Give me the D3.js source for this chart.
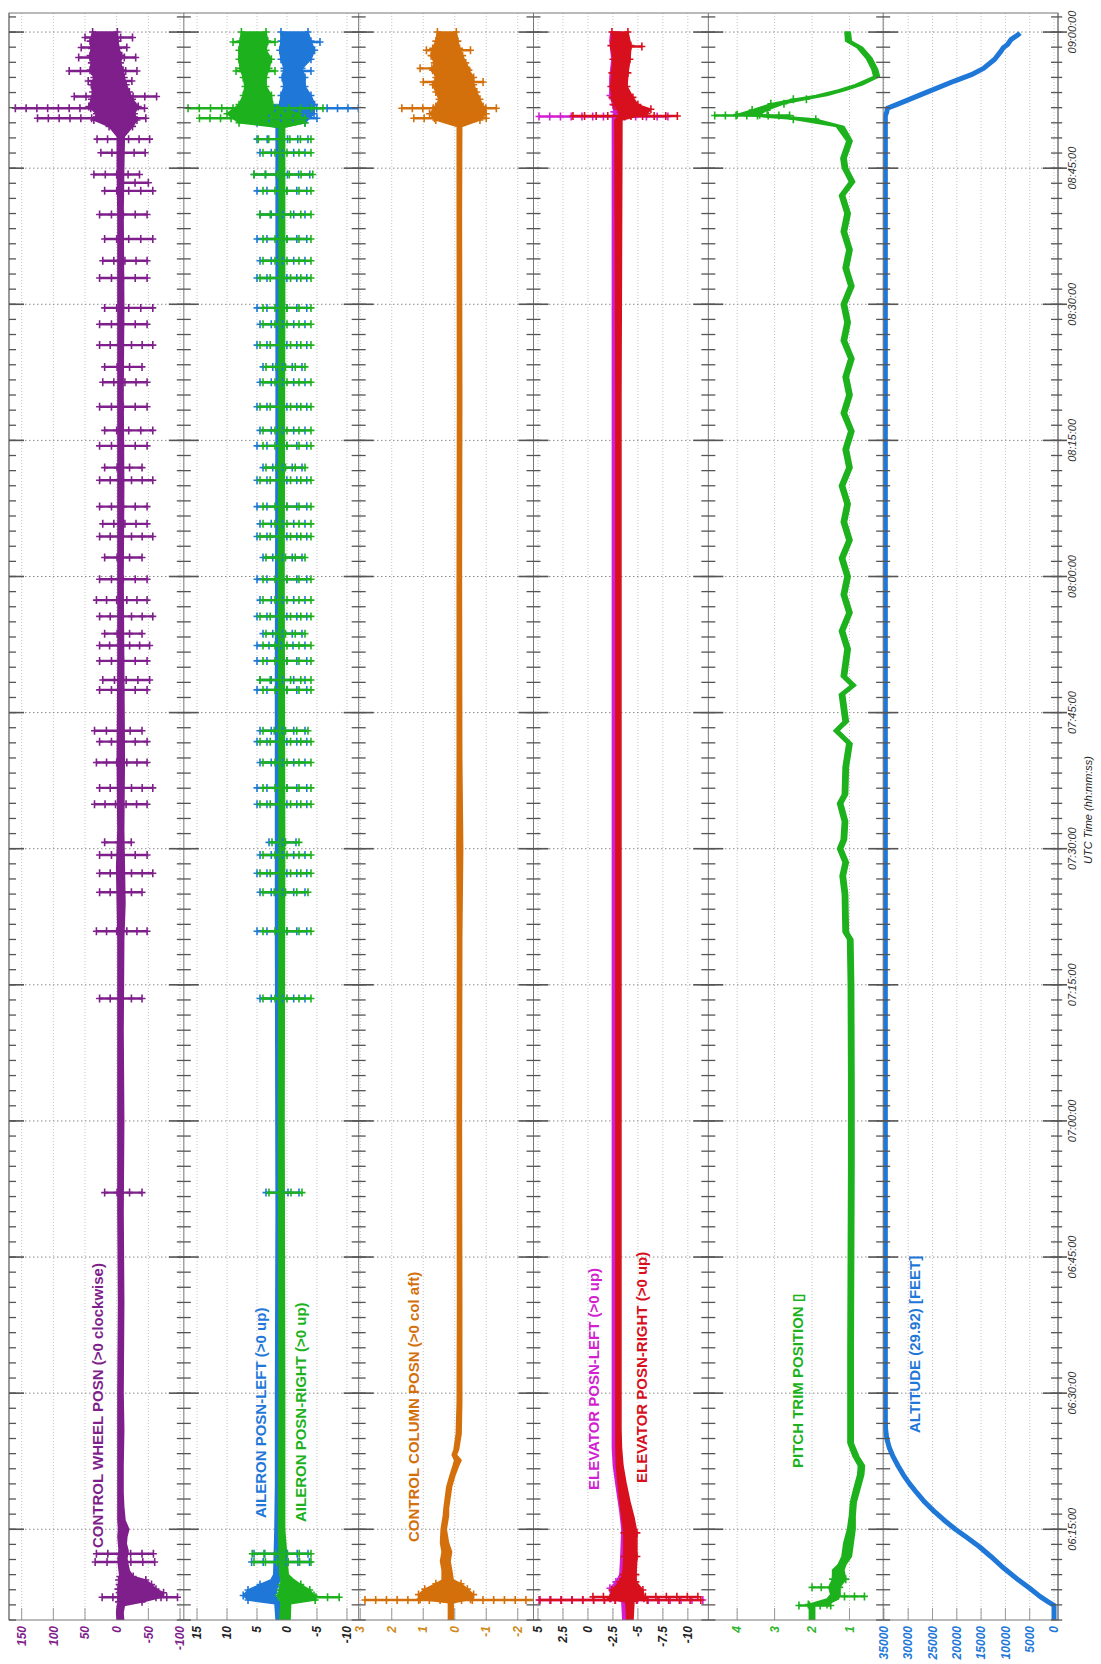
<!DOCTYPE html>
<html><head><meta charset="utf-8">
<script src="https://cdn.jsdelivr.net/npm/d3@7"></script>
<style>body{margin:0;background:#fff}svg{display:block}</style>
</head><body><svg id="c" width="1101" height="1664"></svg>
<script>
// ---------------- DATA (time = minutes after 06:00 UTC) ----------------
const timeTickLabels = ["06:15:00","06:30:00","06:45:00","07:00:00","07:15:00","07:30:00","07:45:00","08:00:00","08:15:00","08:30:00","08:45:00","09:00:00"];
const wheelTicks = [150,100,50,0,-50,-100];
const aileronTicks = [15,10,5,0,-5,-10];
const columnTicks = [3,2,1,0,-1,-2];
const elevatorTicks = [5,2.5,0,-2.5,-5,-7.5,-10];
const trimTicks = [4,3,2,1];
const altitudeTicks = [35000,30000,25000,20000,15000,10000,5000,0];

const seriesLabels = ["CONTROL WHEEL POSN (>0 clockwise)","AILERON POSN-LEFT (>0 up)","AILERON POSN-RIGHT (>0 up)","CONTROL COLUMN POSN (>0 col aft)","ELEVATOR POSN-LEFT (>0 up)","ELEVATOR POSN-RIGHT (>0 up)","PITCH TRIM POSITION \u25AF","ALTITUDE (29.92) [FEET]"];

// bands: [time, low, high]
const wheelBand = [[4.9,-11,-1],[5.8,-10,0],[6.6,-12,-1],[7.0,-40,-3],[7.5,-70,-2],[8.0,-74,-4],[8.4,-62,-2],[8.9,-55,-4],[9.4,-46,-3],[9.8,-26,-5],[10.4,-20,-4],[11.0,-18,-3],[11.8,-16,-2],[12.6,-18,-4],[13.4,-15,-3],[14.2,-16,-2],[15.0,-19,-3],[16.0,-13,-2],[17.5,-11,-2],[19,-10,-2],[22,-10,-2],[26,-11,-2],[30,-10,-2],[40,-11,-3],[50,-10,-2],[60,-11,-2],[70,-10,-2],[80,-11,-2],[84,-13,-1],[88,-12,0],[92,-11,-2],[100,-12,-1],[110,-11,-2],[120,-10,-2],[130,-11,-2],[140,-10,-2],[150,-11,-2],[160,-10,-2],[165,-11,-1],[168.5,-12,-1],[169.6,-25,12],[170.3,-32,36],[171.0,-28,32],[171.8,-34,44],[172.6,-25,40],[173.4,-20,38],[174.2,-15,40],[175.0,-12,36],[175.8,-10,42],[176.6,-6,40],[177.4,-8,42],[178.2,-3,40],[179.0,-2,42],[180.0,-1,38]];
const wheelSpikes = [[7.5,-96,23],[11.4,-60,34],[12.3,-58,32],[52.1,-40,19],[73.5,-40,27],[80.9,-48,32],[85.2,-40,27],[87.3,-57,27],[89.3,-48,27],[90.7,-23,19],[94.9,-48,35],[96.7,-57,27],[99.5,-48,32],[101.8,-48,27],[103.0,-40,35],[107.5,-48,27],[108.6,-52,22],[110.7,-48,27],[112.4,-52,27],[113.7,-40,19],[115.6,-57,27],[117.4,-48,32],[119.7,-48,27],[122.1,-40,19],[124.4,-57,27],[125.8,-48,22],[127.7,-48,27],[130.6,-57,27],[132.0,-40,19],[134.4,-48,27],[136.1,-57,19],[138.7,-48,27],[141.4,-48,22],[143.1,-40,19],[145.5,-57,27],[147.8,-48,27],[149.6,-57,19],[152.9,-48,27],[154.8,-48,22],[157.2,-57,19],[159.9,-48,27],[162.5,-57,19],[163.4,-50,-8],[164.3,-36,36],[166.7,-45,25],[168.2,-52,31],[170.5,-46,125],[171.6,-44,160],[172.9,-63,67],[174.6,-24,45],[175.7,-32,75],[177.2,-30,60],[178.3,-16,56],[179.4,-25,50]];

const aileronLeftBand = [[4.9,0.7,1.8],[6.8,0.7,2.0],[7.2,1.5,6.5],[7.7,2,7.3],[8.3,1.8,6.5],[8.9,1.5,4.5],[9.4,1.2,2.7],[10,1.0,2.2],[15,1.0,2.0],[20,0.9,1.9],[30,1.0,1.9],[50,0.9,1.8],[80,1.0,1.9],[110,0.9,1.9],[140,1.0,1.8],[169.5,0.9,1.8],[170.0,-3,5],[171,-4.5,6],[172,-4.6,1.2],[173,-4.0,1.0],[174,-3.0,0.5],[175,-3,0.8],[176,-2.5,0.5],[177,-4,1],[178,-4.6,1.2],[179,-4,1],[180,-3.5,1.0]];
const aileronRightBand = [[4.9,-0.5,1.2],[6.8,-0.6,1.0],[7.2,-4.7,1.0],[7.7,-4.5,1.5],[8.3,-3.8,1.2],[8.9,-2.3,1.0],[9.5,-1.0,1.0],[10,-0.2,1.2],[15,0.4,1.4],[30,0.4,1.3],[60,0.5,1.4],[90,0.4,1.3],[120,0.5,1.4],[150,0.4,1.3],[169.5,0.4,1.3],[170,-3,8],[171,-2,10],[172,2.4,8.0],[173,2.6,7.3],[174,3.5,7],[175,3.5,7.3],[176,3,7.8],[177,2.6,8.0],[178,3.5,8.0],[179,3.2,7.8],[180,3.5,7.6]];
const aileronLeftSpikes = [[11.4,-3.75,5.9],[12.3,-3.5,5.5],[52.1,-2,3.5],[73.5,-3,4.5],[80.9,-3.3,5],[85.2,-3,4.5],[87.3,-3.3,5],[89.3,-3,4.5],[90.7,-1.5,3],[94.9,-3.3,5],[96.7,-3.3,5],[99.5,-3,4.5],[101.8,-3.3,5],[103.0,-3,4.5],[107.5,-3.3,5],[108.6,-3,4.5],[110.7,-3.3,5],[112.4,-3,5],[113.7,-2.5,4],[115.6,-3.3,5],[117.4,-3,4.5],[119.7,-3.3,5],[122.1,-2.5,4],[124.4,-3.3,5],[125.8,-3,4.5],[127.7,-3.3,5],[130.6,-3.3,5],[132.0,-2.5,4],[134.4,-3.3,5],[136.1,-3,4.5],[138.7,-3.3,5],[141.4,-3,4.5],[143.1,-2.5,4],[145.5,-3.3,5],[147.8,-3,4.5],[149.6,-3.3,5],[152.9,-3.3,5],[154.8,-3,4.5],[157.2,-3.3,5],[159.9,-3,4.5],[162.5,-3.3,5],[164.3,-3.8,5.5],[166.7,-3,4.5],[168.2,-3.5,5],[170.5,-5,3],[171.6,-11.9,2],[175.7,-4,0.5],[178.9,-5.5,0]];
const aileronRightSpikes = [[7.5,-8.7,1],[11.4,-4,5.5],[12.3,-4,5.8],[52.1,-2.5,3],[73.5,-4,4],[80.9,-4,4],[85.2,-3.5,4],[87.3,-4,4.5],[89.3,-4,4],[90.7,-2,2.5],[94.9,-4,4.5],[96.7,-4,4],[99.5,-4,4],[101.8,-4,4.5],[103.0,-3.5,4],[107.5,-4,4],[108.6,-4,4.5],[110.7,-4,4],[112.4,-4,4],[113.7,-3,3.5],[115.6,-4,4.5],[117.4,-4,4],[119.7,-4,4],[122.1,-3,3.5],[124.4,-4,4.5],[125.8,-4,4],[127.7,-4,4],[130.6,-4,4.5],[132.0,-3,3.5],[134.4,-4,4],[136.1,-4,4],[138.7,-4,4.5],[141.4,-4,4],[143.1,-3,3.5],[145.5,-4,4.5],[147.8,-4,4],[149.6,-4,4],[152.9,-4,4.5],[154.8,-4,4],[157.2,-4,4],[159.9,-4,4.5],[162.5,-4,4],[164.3,-4.3,5.5],[166.7,-4,4],[168.2,-4,4.8],[170.5,-3,14.6],[171.6,-6,16.5],[175.7,2,8.5],[178.9,2,9]];

const columnBand = [[4.9,0.05,0.2],[6.9,0.05,0.2],[7.3,-0.5,1.1],[7.8,-0.6,1.15],[8.4,-0.4,0.95],[9.0,-0.2,0.6],[9.4,0.05,0.4],[10.5,0.1,0.4],[11.5,0.15,0.45],[12.5,0.1,0.4],[13.5,0.2,0.45],[15,0.27,0.43],[16.5,0.2,0.36],[17.3,0.2,0.34],[19.7,0.1,0.25],[20.9,0.0,0.15],[22.0,-0.12,0.05],[22.6,-0.2,0.0],[23.2,-0.05,0.08],[23.8,-0.12,0.02],[25.5,-0.2,-0.05],[29,-0.22,-0.08],[40,-0.22,-0.09],[60,-0.21,-0.08],[80,-0.22,-0.09],[90,-0.25,-0.07],[100,-0.22,-0.08],[120,-0.21,-0.08],[140,-0.22,-0.09],[160,-0.21,-0.08],[169.6,-0.22,-0.08],[170.3,-0.8,0.6],[171.0,-1.0,0.8],[171.8,-0.9,0.6],[172.6,-0.8,0.5],[173.4,-0.7,0.6],[174.2,-0.6,0.7],[175.0,-0.6,0.6],[175.8,-0.45,0.7],[176.6,-0.35,0.65],[177.4,-0.25,0.75],[178.2,-0.15,0.7],[179.0,-0.1,0.6],[180.0,-0.05,0.55]];
const columnSpikes = [[7.2,-2.6,2.85],[170.5,-1.0,1.3],[171.6,-1.32,1.68],[174.5,-0.9,1.0],[176.0,-0.4,1.1],[178.0,-0.5,0.9]];

const elevatorLeftBand = [[4.9,-3.9,-3.5],[7.0,-3.9,-3.4],[7.4,-5.0,-2.3],[8.5,-5.0,-2.2],[9.2,-4.4,-2.8],[10,-4.2,-3.2],[12,-4.3,-3.3],[15,-4.2,-3.4],[17,-4.0,-3.2],[20,-3.4,-2.8],[22,-3.0,-2.55],[24,-2.85,-2.45],[26,-2.8,-2.45],[30,-2.8,-2.45],[60,-2.8,-2.45],[100,-2.8,-2.45],[140,-2.8,-2.45],[170.5,-2.9,-2.45],[171.2,-4.5,-2.6],[172,-4.0,-2.5],[173,-3.5,-2.2],[175,-3.2,-2.2],[177,-3.5,-2.4],[179,-3.3,-2.2],[180,-3.2,-2.3]];
const elevatorRightBand = [[4.9,-4.5,-3.9],[7.0,-4.6,-3.8],[7.4,-5.6,-2.2],[8.3,-5.5,-2.4],[9.2,-4.8,-3.2],[10,-4.8,-3.5],[12,-4.9,-3.6],[14.6,-4.9,-3.6],[16.3,-4.6,-3.4],[18,-4.2,-3.2],[20.1,-3.8,-3.0],[22,-3.5,-2.85],[24,-3.35,-2.8],[26,-3.3,-2.8],[60,-3.3,-2.8],[100,-3.3,-2.8],[140,-3.3,-2.8],[170.3,-3.4,-2.7],[171.0,-5.9,-3.4],[171.5,-6.3,-3.0],[172.0,-5.0,-2.6],[172.8,-4.5,-2.4],[174,-3.9,-2.3],[175.5,-4.0,-2.4],[177,-4.2,-2.5],[178.5,-4.3,-2.3],[180,-4.0,-2.4]];
const elevatorLeftSpikes = [[7.2,-11.5,4.9],[170.7,-8,4.9]];
const elevatorRightSpikes = [[7.2,-11.3,4.8],[7.55,-11,-0.5],[170.75,-8.95,1.5],[178.4,-5.4,-3]];

const trimBand = [[4.9,1.93,2.07],[6.6,1.93,2.07],[6.7,1.6,2.1],[7.3,1.3,1.6],[7.8,1.25,1.5],[8.6,1.26,1.55],[9.5,1.1,1.45],[10.5,1.15,1.45],[11.1,1.1,1.3],[12,0.95,1.2],[13.5,0.9,1.15],[15,0.85,1.05],[16.5,0.85,1.0],[18,0.82,0.97],[19.5,0.72,0.88],[21,0.62,0.78],[22,0.6,0.76],[23,0.75,0.9],[24.5,0.9,1.04],[35,0.9,1.04],[45,0.89,1.03],[55,0.88,1.02],[65,0.88,1.02],[75,0.89,1.03],[80,0.91,1.05],[80.8,1.03,1.17],[85,1.05,1.19],[87,1.11,1.25],[88.5,1.03,1.17],[90,1.18,1.32],[91,1.08,1.22],[93,1.05,1.19],[95,1.18,1.32],[96,1.05,1.19],[99,1.03,1.17],[101.6,0.93,1.07],[103,1.28,1.42],[104,1.03,1.17],[107,1.13,1.27],[108,0.83,0.97],[109,1.08,1.22],[112,0.98,1.12],[114,1.13,1.27],[116,0.93,1.07],[118,1.08,1.22],[120,0.98,1.12],[122,1.13,1.27],[124,0.93,1.07],[126,1.08,1.22],[128,0.98,1.12],[130,1.13,1.27],[132,0.93,1.07],[134,1.03,1.17],[136,0.88,1.02],[138,1.08,1.22],[140,0.93,1.07],[142,1.03,1.17],[144,0.88,1.02],[146,1.08,1.22],[148,0.98,1.12],[150,1.08,1.22],[152,0.88,1.02],[154,1.03,1.17],[156,0.93,1.07],[158,1.08,1.22],[160,0.98,1.12],[162,1.13,1.27],[163.5,0.86,1.0],[165,1.05,1.19],[166.1,1.09,1.23],[168,0.93,1.07],[169.6,1.15,1.35],[170.4,1.9,2.5],[170.9,3.4,4.0],[171.4,3.2,3.6],[172.1,2.75,3.1],[172.6,2.15,2.5],[173.0,1.6,1.9],[173.6,1.1,1.3],[174.2,0.65,0.85],[175.1,0.2,0.35],[175.9,0.25,0.4],[177.1,0.4,0.55],[178.3,0.65,0.8],[179.0,0.95,1.1],[180,0.98,1.12]];
const trimSpikes = [[6.6,1.5,2.35],[7.6,0.6,1.4],[8.6,1.26,2.0],[170.8,2.6,4.6]];

const altitude = [[4.9,0],[6.6,0],[7.0,1200],[7.6,2900],[8.5,5000],[9.4,7300],[10.7,10300],[12.0,13000],[13.1,15400],[14.2,18200],[15.0,20300],[16.0,22600],[17.0,24700],[18.0,26600],[19.0,28200],[20.0,29700],[21.0,31000],[22.0,32100],[23.0,33100],[24.0,33900],[25.0,34400],[26.0,34650],[27.0,34700],[170.8,34700],[171.2,34400],[171.6,34300],[172.0,32400],[173.3,26500],[174.6,20500],[175.3,17000],[176.0,14500],[177.0,12200],[177.9,10900],[178.3,10400],[178.6,9600],[179.2,8800],[179.7,7400],[179.9,7000]];

// ---------------- LAYOUT ----------------
const L = 9, R = 1058, T = 13, B = 1620, NP = 6, PW = (R - L) / NP;
const C = {purple:"#7f1f8c", blue:"#1f78d8", green:"#1db21d", orange:"#d4700c", magenta:"#d21fd2", red:"#d8101e"};
const svg = d3.select("#c");
const t = d3.scaleLinear().domain([5.0, 182.1]).range([B, T]);
const toMin = s => { const [h, m] = s.split(":").map(Number); return h * 60 + m - 360; };

const panels = [
  {dom:[170,-106], ticks:wheelTicks, lab:C.purple},
  {dom:[17.2,-11.95], ticks:aileronTicks, lab:"#222"},
  {dom:[3.05,-2.5], ticks:columnTicks, lab:"#cf8a1a"},
  {dom:[5.45,-12.05], ticks:elevatorTicks, lab:"#222"},
  {dom:[4.77,0.1], ticks:trimTicks, lab:"#2db52d"},
  {dom:[35150,-820], ticks:altitudeTicks, lab:C.blue}
];
panels.forEach((p, i) => { p.x0 = L + i * PW; p.s = d3.scaleLinear().domain(p.dom).range([p.x0, p.x0 + PW]); });

const defs = svg.append("defs");
panels.forEach((p, i) => defs.append("clipPath").attr("id", "cp" + i).append("rect").attr("x", p.x0).attr("y", T).attr("width", PW).attr("height", B - T));

// grids
const grid = svg.append("g");
panels.forEach(p => {
  p.ticks.forEach(v => {
    const x = p.s(v);
    grid.append("line").attr("x1", x).attr("x2", x).attr("y1", T).attr("y2", B).attr("stroke", "#c4c4c4").attr("stroke-dasharray", "1,2");
    grid.append("line").attr("x1", x).attr("x2", x).attr("y1", B - 12).attr("y2", B).attr("stroke", "#999");
  });
});
timeTickLabels.forEach(s => {
  const y = t(toMin(s));
  grid.append("line").attr("x1", L).attr("x2", R).attr("y1", y).attr("y2", y).attr("stroke", "#8c8c8c").attr("stroke-dasharray", "1.5,2.5");
});

// data drawing helpers
function plus(g, x, y, color) {
  g.append("path").attr("d", `M${x - 3.5},${y}H${x + 3.5}M${x},${y - 4}V${y + 4}`).attr("stroke", color).attr("stroke-width", 1.6);
}
function band(g, s, data, color) {
  g.append("path").datum(data)
    .attr("d", d3.area().y(d => t(d[0])).x0(d => s(d[1])).x1(d => s(d[2])))
    .attr("fill", color).attr("stroke", color).attr("stroke-width", 1.6).attr("stroke-linejoin", "round");
  data.forEach(d => {
    if (Math.abs(s(d[1]) - s(d[2])) > 12) { plus(g, s(d[1]), t(d[0]), color); plus(g, s(d[2]), t(d[0]), color); }
  });
}
function spikes(g, s, data, color) {
  data.forEach(([tm, lo, hi]) => {
    const y = t(tm), xa = s(hi), xb = s(lo);
    g.append("line").attr("x1", xa).attr("x2", xb).attr("y1", y).attr("y2", y).attr("stroke", color).attr("stroke-width", 2.4);
    const n = Math.max(1, Math.round(Math.abs(xb - xa) / 11));
    for (let k = 0; k <= n; k++) plus(g, xa + (xb - xa) * k / n, y, color);
  });
}
const gp = panels.map((p, i) => svg.append("g").attr("clip-path", `url(#cp${i})`));

band(gp[0], panels[0].s, wheelBand, C.purple);
spikes(gp[0], panels[0].s, wheelSpikes, C.purple);

band(gp[1], panels[1].s, aileronLeftBand, C.blue);
band(gp[1], panels[1].s, aileronRightBand, C.green);
spikes(gp[1], panels[1].s, aileronLeftSpikes, C.blue);
spikes(gp[1], panels[1].s, aileronRightSpikes, C.green);

band(gp[2], panels[2].s, columnBand, C.orange);
spikes(gp[2], panels[2].s, columnSpikes, C.orange);

band(gp[3], panels[3].s, elevatorLeftBand, C.magenta);
spikes(gp[3], panels[3].s, elevatorLeftSpikes, C.magenta);
band(gp[3], panels[3].s, elevatorRightBand, C.red);
spikes(gp[3], panels[3].s, elevatorRightSpikes, C.red);

band(gp[4], panels[4].s, trimBand, C.green);
spikes(gp[4], panels[4].s, trimSpikes, C.green);

gp[5].append("path").datum(altitude)
  .attr("d", d3.line().x(d => panels[5].s(d[1])).y(d => t(d[0])))
  .attr("fill", "none").attr("stroke", C.blue).attr("stroke-width", 5).attr("stroke-linejoin", "round");

// frame and time ticks
const fr = svg.append("g");
fr.append("rect").attr("x", L).attr("y", T).attr("width", R - L).attr("height", B - T).attr("fill", "none").attr("stroke", "#777");
const minors = d3.range(0, 107).map(k => 5 + k * 5 / 3).filter(m => t(m) >= T);
const majors = timeTickLabels.map(toMin);
const bounds = d3.range(0, NP + 1).map(i => L + i * PW);
bounds.forEach((x, bi) => {
  fr.append("line").attr("x1", x).attr("x2", x).attr("y1", T).attr("y2", B).attr("stroke", "#777");
  const left = bi === 0 ? 0 : 1, right = bi === NP ? 0.6 : 1;
  minors.forEach(m => {
    const y = t(m);
    fr.append("line").attr("x1", x - 7 * left).attr("x2", x + 7 * right).attr("y1", y).attr("y2", y).attr("stroke", "#555").attr("stroke-width", 1.3);
  });
  majors.forEach(m => {
    const y = t(m);
    fr.append("line").attr("x1", x - 15 * left).attr("x2", x + 15 * right).attr("y1", y).attr("y2", y).attr("stroke", "#555").attr("stroke-width", 1.6);
  });
});

// value tick labels
const font = "'Liberation Sans', Arial, sans-serif";
panels.forEach(p => {
  p.ticks.forEach(v => {
    svg.append("text").attr("transform", `translate(${p.s(v)},${B + 6}) rotate(-90)`)
      .attr("text-anchor", "end").attr("dy", "0.35em")
      .attr("font-family", font).attr("font-size", 12).attr("font-style", "italic").attr("font-weight", "bold")
      .attr("fill", p.lab).text(v);
  });
});

// time labels
timeTickLabels.forEach(s => {
  svg.append("text").attr("transform", `translate(1072,${t(toMin(s))}) rotate(-90)`)
    .attr("text-anchor", "middle").attr("dy", "0.35em")
    .attr("font-family", font).attr("font-size", 11).attr("font-style", "italic").attr("fill", "#333").text(s);
});
svg.append("text").attr("transform", "translate(1088,810) rotate(-90)")
  .attr("text-anchor", "middle").attr("dy", "0.35em")
  .attr("font-family", font).attr("font-size", 11).attr("font-style", "italic").attr("fill", "#222").text("UTC Time (hh:mm:ss)");

// series labels
const labelPos = [[98,1548,C.purple],[261,1518,C.blue],[301,1522,C.green],[414,1542,C.orange],[594,1490,C.magenta],[642,1483,C.red],[798,1468,C.green],[915,1433,C.blue]];
seriesLabels.forEach((txt, i) => {
  const [x, y, col] = labelPos[i];
  svg.append("text").attr("transform", `translate(${x},${y}) rotate(-90)`)
    .attr("text-anchor", "start").attr("dy", "0.35em")
    .attr("font-family", font).attr("font-size", 15).attr("font-weight", "bold").attr("fill", col).text(txt);
});
</script>
</body></html>
